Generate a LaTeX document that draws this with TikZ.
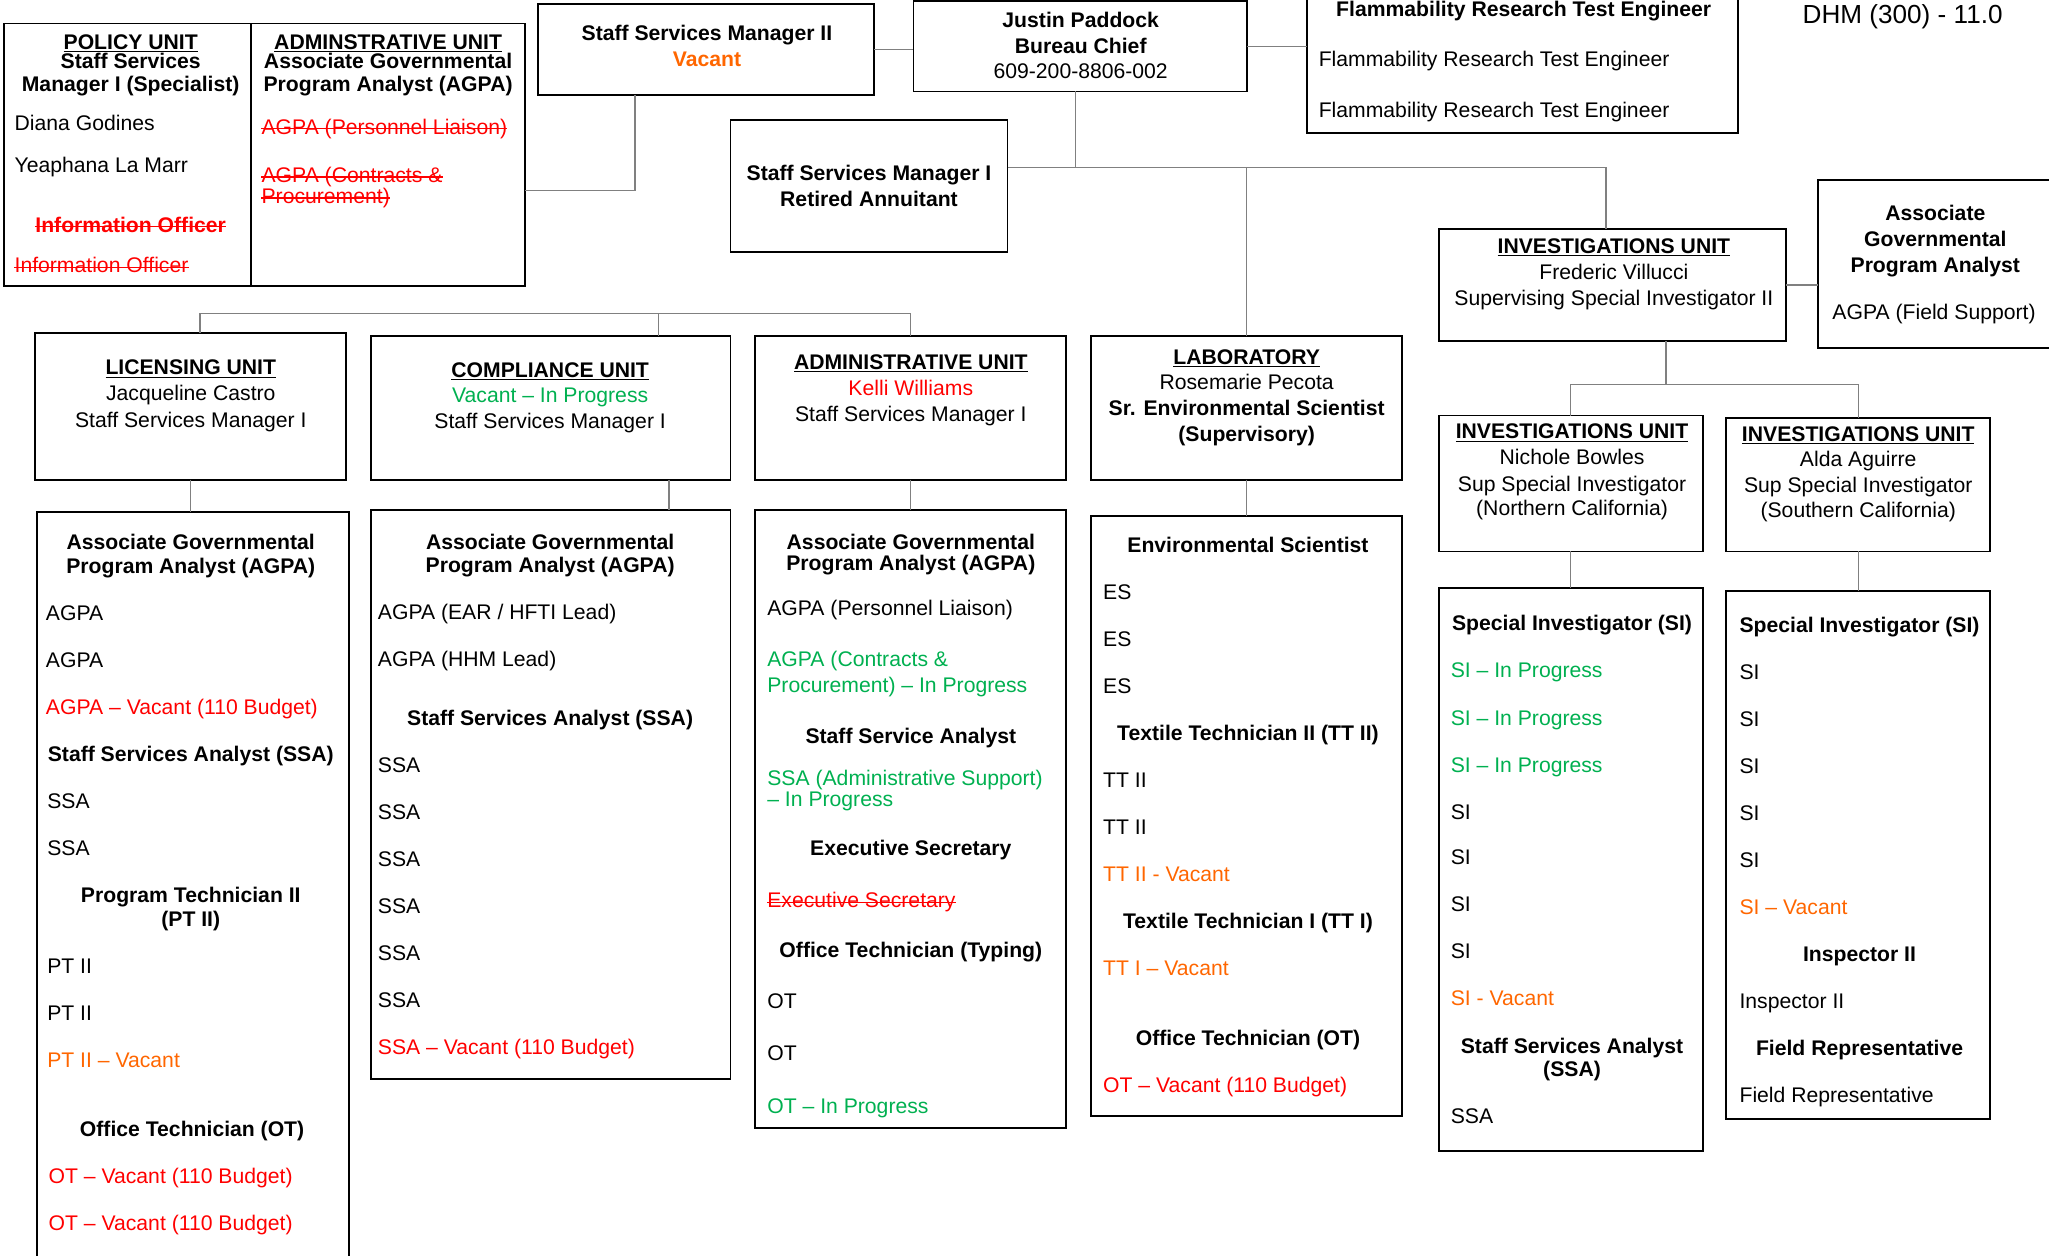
\documentclass[tikz,border=0pt]{standalone}
\usepackage{fontspec}
\setmainfont{Liberation Sans}
\newcommand\chartfont{\fontsize{16.2}{19}\selectfont}
\definecolor{vacred}{RGB}{255,0,0}
\definecolor{vacorange}{RGB}{255,102,0}
\definecolor{progreen}{RGB}{0,176,80}
\definecolor{linkgray}{RGB}{128,128,128}
\tikzset{
  box/.style={draw, line width=1.4pt, inner sep=0pt, outer sep=0pt},
  link/.style={draw=linkgray, line width=1pt},
  lt/.style={anchor=west, inner sep=0pt, text height=11.6pt, text depth=0pt},
  ct/.style={anchor=center, inner sep=0pt, text height=11.6pt, text depth=0pt},
  hd/.style={font=\chartfont\bfseries},
  struck/.style={text=vacred, append after command={([yshift=-1.5pt]\tikzlastnode.west)
      edge[draw=vacred, line width=1pt] ([yshift=-1.5pt]\tikzlastnode.east)}},
}

\begin{document}
\begin{tikzpicture}[x=1pt,y=-1pt,font=\chartfont]
\useasboundingbox (0,0) rectangle (1568,961);

   \node[box,minimum width=189pt,minimum height=201pt] (policy) at (97.5,118.5) {};
   \node[box,minimum width=210pt,minimum height=201pt] (topadm) at (297,118.5) {};
   \node[box,minimum width=257pt,minimum height=70pt] (ssmii) at (540.5,38) {};
   \node[box,minimum width=255pt,minimum height=69pt] (chief) at (826.5,35.5) {};
   \node[box,minimum width=330pt,minimum height=114pt] (flamm) at (1165,45) {};
   \node[box,minimum width=212pt,minimum height=101pt] (ssmi) at (665,142.5) {};
   \node[box,minimum width=266pt,minimum height=86pt] (invest) at (1234,218) {};
   \node[box,minimum width=184pt,minimum height=128pt] (agfs) at (1483,202) {};
   \node[box,minimum width=202pt,minimum height=104pt] (norcal) at (1202,370) {};
   \node[box,minimum width=202pt,minimum height=102pt] (socal) at (1422,371) {};
   \node[box,minimum width=238pt,minimum height=112pt] (lic) at (146,311) {};
   \node[box,minimum width=275pt,minimum height=110pt] (comp) at (421.5,312) {};
   \node[box,minimum width=238pt,minimum height=110pt] (adm) at (697,312) {};
   \node[box,minimum width=238pt,minimum height=110pt] (lab) at (954,312) {};
   \node[box,minimum width=239pt,minimum height=583pt] (licst) at (147.5,683.5) {};
   \node[box,minimum width=275pt,minimum height=436pt] (compst) at (421.5,608) {};
   \node[box,minimum width=238pt,minimum height=473pt] (admst) at (697,626.5) {};
   \node[box,minimum width=238pt,minimum height=459pt] (labst) at (954,624.5) {};
   \node[box,minimum width=202pt,minimum height=431pt] (norst) at (1202,665.5) {};
   \node[box,minimum width=202pt,minimum height=404pt] (soust) at (1422,654) {};

   \coordinate (topbar) at (823,128);
   \coordinate (invdrop) at (1229,128);
   \coordinate (leftbar) at (486,146);
   \coordinate (midbar) at (153,240);
   \coordinate (compdrop) at (504,240);
   \coordinate (compfeed) at (512,367);
   \coordinate (invbar) at (1275,294);

   \path[link] (topadm.east |- leftbar) -- (leftbar) -- (leftbar |- ssmii.south);
   \path[link] (ssmii.east) -- (ssmii.east -| chief.west);
   \path[link] (chief.east) -- (chief.east -| flamm.west);
   \path[link] (chief.south -| topbar) -- (topbar);
   \path[link] (ssmi.east |- topbar) -- (invdrop) -- (invdrop |- invest.north);
   \path[link] (lab.north |- topbar) -- (lab.north);
   \path[link] (midbar |- lic.north) -- (midbar) -- (midbar -| adm.north) -- (adm.north);
   \path[link] (compdrop) -- (compdrop |- comp.north);
   \path[link] (lic.south) -- (lic.south |- licst.north);
   \path[link] (compfeed) -- (compfeed |- compst.north);
   \path[link] (adm.south) -- (adm.south |- admst.north);
   \path[link] (lab.south) -- (lab.south |- labst.north);
   \path[link] (invest.east) -- (invest.east -| agfs.west);
   \path[link] (invest.south -| invbar) -- (invbar);
   \path[link] (norcal.north) -- (norcal.north |- invbar) -- (socal.north |- invbar) -- (socal.north);
   \path[link] (norcal.south) -- (norcal.south |- norst.north);
   \path[link] (socal.south) -- (socal.south |- soust.north);

   \node[ct,hd] (pol0) at (100,32) {\underline{POLICY UNIT}};
   \node[ct,hd] (pol1) at (100,47) {Staff Services};
   \node[ct,hd] (pol2) at (100,64) {Manager I (Specialist)};
   \node[lt] (pol3) at (11,94) {Diana Godines};
   \node[lt] (pol4) at (11,126) {Yeaphana La Marr};
   \node[ct,hd,struck] (pol5) at (100,172) {Information Officer};
   \node[lt,struck] (pol6) at (11,203) {Information Officer};

   \node[ct,hd] (tad0) at (297,32) {\underline{ADMINSTRATIVE UNIT}};
   \node[ct,hd] (tad1) at (297,47) {Associate Governmental};
   \node[ct,hd] (tad2) at (297,64) {Program Analyst (AGPA)};
   \node[lt,struck] (tad3) at (200,97) {AGPA (Personnel Liaison)};
   \node[lt,struck] (tad4) at (200,134) {AGPA (Contracts \&};
   \node[lt,struck] (tad5) at (200,150) {Procurement)};

   \node[ct,hd] (ssm0) at (541,25) {Staff Services Manager II};
   \node[ct,hd,text=vacorange] (ssm1) at (541,45) {Vacant};
   \node[ct,hd] (chf0) at (827,15) {Justin Paddock};
   \node[ct,hd] (chf1) at (827,35) {Bureau Chief};
   \node[ct] (chf2) at (827,54) {609-200-8806-002};
   \node[ct,hd] (frt0) at (1166,7) {Flammability Research Test Engineer};
   \node[lt] (frt1) at (1009,45) {Flammability Research Test Engineer};
   \node[lt] (frt2) at (1009,84) {Flammability Research Test Engineer};
   \node[ct,font=\fontsize{20}{22}\selectfont] (dhm) at (1456,12) {DHM (300) - 11.0};
   \node[ct,hd] (sra0) at (665,132) {Staff Services Manager I};
   \node[ct,hd] (sra1) at (665,152) {Retired Annuitant};

   \node[ct,hd] (inv0) at (1235,188) {\underline{INVESTIGATIONS UNIT}};
   \node[ct] (inv1) at (1235,208) {Frederic Villucci};
   \node[ct] (inv2) at (1235,228) {Supervising Special Investigator II};
   \node[ct,hd] (afs0) at (1481,163) {Associate};
   \node[ct,hd] (afs1) at (1481,183) {Governmental};
   \node[ct,hd] (afs2) at (1481,203) {Program Analyst};
   \node[ct] (afs3) at (1480,239) {AGPA (Field Support)};

   \node[ct,hd] (nor0) at (1203,330) {\underline{INVESTIGATIONS UNIT}};
   \node[ct] (nor1) at (1203,350) {Nichole Bowles};
   \node[ct] (nor2) at (1203,370) {Sup Special Investigator};
   \node[ct] (nor3) at (1203,389) {(Northern California)};
   \node[ct,hd] (sou0) at (1422,332) {\underline{INVESTIGATIONS UNIT}};
   \node[ct] (sou1) at (1422,351) {Alda Aguirre};
   \node[ct] (sou2) at (1422,371) {Sup Special Investigator};
   \node[ct] (sou3) at (1422,390) {(Southern California)};

   \node[ct,hd] (lic0) at (146,281) {\underline{LICENSING UNIT}};
   \node[ct] (lic1) at (146,301) {Jacqueline Castro};
   \node[ct] (lic2) at (146,321) {Staff Services Manager I};
   \node[ct,hd] (cmp0) at (421,283) {\underline{COMPLIANCE UNIT}};
   \node[ct,text=progreen] (cmp1) at (421,302) {Vacant -- In Progress};
   \node[ct] (cmp2) at (421,322) {Staff Services Manager I};
   \node[ct,hd] (adm0) at (697,277) {\underline{ADMINISTRATIVE UNIT}};
   \node[ct,text=vacred] (adm1) at (697,297) {Kelli Williams};
   \node[ct] (adm2) at (697,317) {Staff Services Manager I};
   \node[ct,hd] (lab0) at (954,273) {\underline{LABORATORY}};
   \node[ct] (lab1) at (954,292) {Rosemarie Pecota};
   \node[ct,hd] (lab2) at (954,312) {Sr. Environmental Scientist};
   \node[ct,hd] (lab3) at (954,332) {(Supervisory)};

   \node[ct,hd] (lsh1) at (146,415) {Associate Governmental};
   \node[ct,hd] (lsh2) at (146,433) {Program Analyst (AGPA)};
   \foreach \y [count=\i] in {469,505} \node[lt] (lsa\i) at (35,\y) {AGPA};
   \node[lt,text=vacred] (lsa3) at (35,541) {AGPA -- Vacant (110 Budget)};
   \node[ct,hd] (lsh3) at (146,577) {Staff Services Analyst (SSA)};
   \foreach \y [count=\i] in {613,649} \node[lt] (lss\i) at (36,\y) {SSA};
   \node[ct,hd] (lsh4) at (146,685) {Program Technician II};
   \node[ct,hd] (lsh5) at (146,703) {(PT II)};
   \foreach \y [count=\i] in {739,775} \node[lt] (lpt\i) at (36,\y) {PT II};
   \node[lt,text=vacorange] (lpt3) at (36,811) {PT II -- Vacant};
   \node[ct,hd] (lsh6) at (147,864) {Office Technician (OT)};
   \foreach \y [count=\i] in {900,936} \node[lt,text=vacred] (lot\i) at (37,\y) {OT -- Vacant (110 Budget)};

   \node[ct,hd] (csh1) at (421,415) {Associate Governmental};
   \node[ct,hd] (csh2) at (421,432) {Program Analyst (AGPA)};
   \node[lt] (csa1) at (289,468) {AGPA (EAR / HFTI Lead)};
   \node[lt] (csa2) at (289,504) {AGPA (HHM Lead)};
   \node[ct,hd] (csh3) at (421,549) {Staff Services Analyst (SSA)};
   \foreach \y [count=\i] in {585,621,657,693,729,765} \node[lt] (css\i) at (289,\y) {SSA};
   \node[lt,text=vacred] (css7) at (289,801) {SSA -- Vacant (110 Budget)};

   \node[ct,hd] (ash1) at (697,415) {Associate Governmental};
   \node[ct,hd] (ash2) at (697,431) {Program Analyst (AGPA)};
   \node[lt] (asa1) at (587,465) {AGPA (Personnel Liaison)};
   \node[lt,text=progreen] (asa2) at (587,504) {AGPA (Contracts \&};
   \node[lt,text=progreen] (asa3) at (587,524) {Procurement) -- In Progress};
   \node[ct,hd] (ash3) at (697,563) {Staff Service Analyst};
   \node[lt,text=progreen] (ass1) at (587,595) {SSA (Administrative Support)};
   \node[lt,text=progreen] (ass2) at (587,611) {-- In Progress};
   \node[ct,hd] (ash4) at (697,649) {Executive Secretary};
   \node[lt,struck] (aex1) at (587,689) {Executive Secretary};
   \node[ct,hd] (ash5) at (697,727) {Office Technician (Typing)};
   \foreach \y [count=\i] in {766,806} \node[lt] (aot\i) at (587,\y) {OT};
   \node[lt,text=progreen] (aot3) at (587,846) {OT -- In Progress};

   \node[ct,hd] (bsh1) at (955,417) {Environmental Scientist};
   \foreach \y [count=\i] in {453,489,525} \node[lt] (bes\i) at (844,\y) {ES};
   \node[ct,hd] (bsh2) at (955,561) {Textile Technician II (TT II)};
   \foreach \y [count=\i] in {597,633} \node[lt] (btt\i) at (844,\y) {TT II};
   \node[lt,text=vacorange] (btt3) at (844,669) {TT II - Vacant};
   \node[ct,hd] (bsh3) at (955,705) {Textile Technician I (TT I)};
   \node[lt,text=vacorange] (bti1) at (844,741) {TT I -- Vacant};
   \node[ct,hd] (bsh4) at (955,794) {Office Technician (OT)};
   \node[lt,text=vacred] (bot1) at (844,830) {OT -- Vacant (110 Budget)};

   \node[ct,hd] (nsh1) at (1203,477) {Special Investigator (SI)};
   \foreach \y [count=\i] in {513,549,585} \node[lt,text=progreen] (nsp\i) at (1110,\y) {SI -- In Progress};
   \foreach \y [count=\i] in {621,656,692,728} \node[lt] (nsi\i) at (1110,\y) {SI};
   \node[lt,text=vacorange] (nsi5) at (1110,764) {SI - Vacant};
   \node[ct,hd] (nsh2) at (1203,800) {Staff Services Analyst};
   \node[ct,hd] (nsh3) at (1203,818) {(SSA)};
   \node[lt] (nss1) at (1110,854) {SSA};

   \node[ct,hd] (ssh1) at (1423,478) {Special Investigator (SI)};
   \foreach \y [count=\i] in {514,550,586,622,658} \node[lt] (ssi\i) at (1331,\y) {SI};
   \node[lt,text=vacorange] (ssi6) at (1331,694) {SI -- Vacant};
   \node[ct,hd] (ssh2) at (1423,730) {Inspector II};
   \node[lt] (sin1) at (1331,766) {Inspector II};
   \node[ct,hd] (ssh3) at (1423,802) {Field Representative};
   \node[lt] (sfr1) at (1331,838) {Field Representative};
\end{tikzpicture}
\end{document}
